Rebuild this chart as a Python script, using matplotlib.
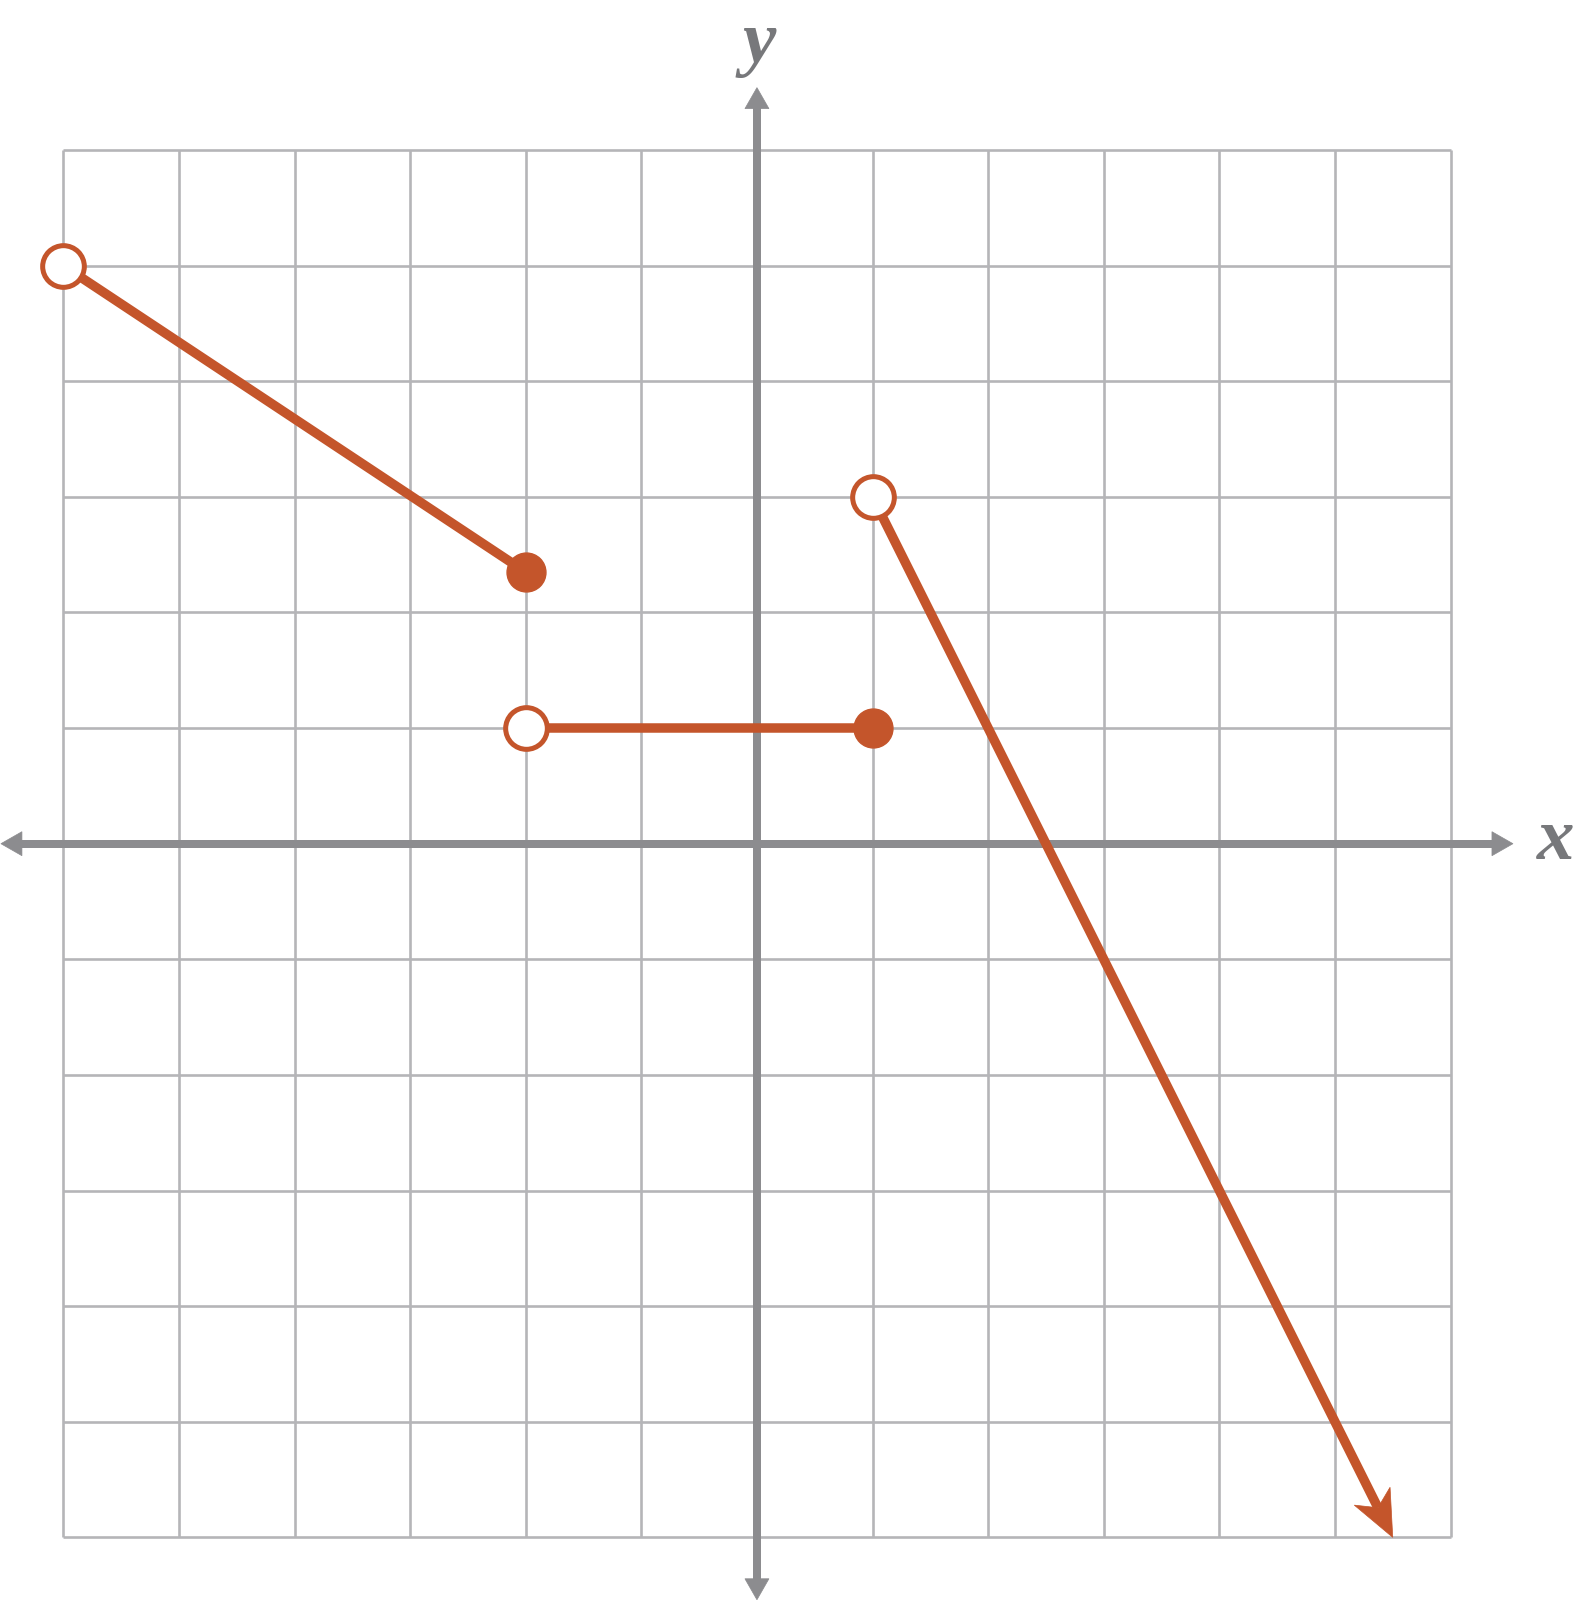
import numpy as np
import matplotlib
matplotlib.use("Agg")
import matplotlib.pyplot as plt
from matplotlib.patches import Polygon
from matplotlib.transforms import IdentityTransform

# ---- data ----
grid_ticks = list(range(-6, 7))
seg1_x = [-6, -2]
seg1_y = [5, 2.35]
seg2_x = [-2, 1]
seg2_y = [1, 1]
seg3_x = [1, 5.5]
seg3_y = [3, -6]
open_x = [-6, -2, 1]
open_y = [5, 1, 3]
closed_x = [-2, 1]
closed_y = [2.35, 1]
axis_extent = 6.54

ORANGE = "#C4552B"
AXIS_GRAY = "#8C8C8F"
GRID_GRAY = "#B5B5B8"
TEXT_GRAY = "#77787B"

W, H, DPI = 1574, 1600, 100
fig = plt.figure(figsize=(W / DPI, H / DPI), dpi=DPI)
ax = fig.add_axes([0, 0, 1, 1])
ax.set_xlim(-6.548, 7.068)
ax.set_ylim(-6.542, 7.298)
ax.axis("off")

# grid
for t in grid_ticks:
    ax.plot([t, t], [grid_ticks[0], grid_ticks[-1]], color=GRID_GRAY, lw=1.9, zorder=1,
            solid_capstyle="butt")
    ax.plot([grid_ticks[0], grid_ticks[-1]], [t, t], color=GRID_GRAY, lw=1.9, zorder=1,
            solid_capstyle="butt")

fig.canvas.draw()
px_per_pt = DPI / 72.0


def tri_head(tip, direction, length_px, half_w_px, notch_frac, color, z):
    tipd = ax.transData.transform(tip)
    d = np.asarray(direction, float)
    p2 = ax.transData.transform((tip[0] - d[0], tip[1] - d[1]))
    v = tipd - p2
    v = v / np.linalg.norm(v)
    n = np.array([-v[1], v[0]])
    back = tipd - length_px * v
    pts = [tipd, back + half_w_px * n, tipd - notch_frac * length_px * v, back - half_w_px * n]
    poly = Polygon(pts, closed=True, transform=IdentityTransform(), facecolor=color,
                   edgecolor=color, lw=0.5, zorder=z)
    ax.add_patch(poly)
    return tipd - notch_frac * length_px * v


# axes lines
ax_lw = 8 / px_per_pt
ax.plot([-axis_extent + 0.15, axis_extent - 0.15], [0, 0], color=AXIS_GRAY, lw=ax_lw, zorder=2,
        solid_capstyle="butt")
ax.plot([0, 0], [-axis_extent + 0.15, axis_extent - 0.15], color=AXIS_GRAY, lw=ax_lw, zorder=2,
        solid_capstyle="butt")
tri_head((axis_extent, 0), (1, 0), 21, 12, 1.0, AXIS_GRAY, 2.1)
tri_head((-axis_extent, 0), (-1, 0), 21, 12, 1.0, AXIS_GRAY, 2.1)
tri_head((0, axis_extent), (0, 1), 21, 12, 1.0, AXIS_GRAY, 2.1)
tri_head((0, -axis_extent), (0, -1), 21, 12, 1.0, AXIS_GRAY, 2.1)

# axis labels
ax.text(0.02, 6.92, "y", fontsize=54, family="Liberation Serif", style="italic",
        weight="bold", color=TEXT_GRAY, ha="center", va="center", zorder=3)
ax.text(6.91, 0.02, "x", fontsize=54, family="Liberation Serif", style="italic",
        weight="bold", color=TEXT_GRAY, ha="center", va="center", zorder=3)

# function pieces
line_lw = 9.5 / px_per_pt
ax.plot(seg1_x, seg1_y, color=ORANGE, lw=line_lw, zorder=4, solid_capstyle="butt")
ax.plot(seg2_x, seg2_y, color=ORANGE, lw=line_lw, zorder=4, solid_capstyle="butt")

# last segment ending in an arrow
dx = seg3_x[1] - seg3_x[0]
dy = seg3_y[1] - seg3_y[0]
notch_disp = tri_head((seg3_x[1], seg3_y[1]), (dx, dy), 46, 20, 0.72, ORANGE, 4.1)
notch_data = ax.transData.inverted().transform(notch_disp)
ax.plot([seg3_x[0], notch_data[0]], [seg3_y[0], notch_data[1]], color=ORANGE, lw=line_lw,
        zorder=4, solid_capstyle="butt")

# endpoints
ax.plot(open_x, open_y, "o", ms=30, mfc="white", mec=ORANGE, mew=3.6, zorder=5, ls="none")
ax.plot(closed_x, closed_y, "o", ms=28, mfc=ORANGE, mec=ORANGE, mew=1, zorder=5, ls="none")

fig.savefig("out.png", dpi=DPI, facecolor="white")
